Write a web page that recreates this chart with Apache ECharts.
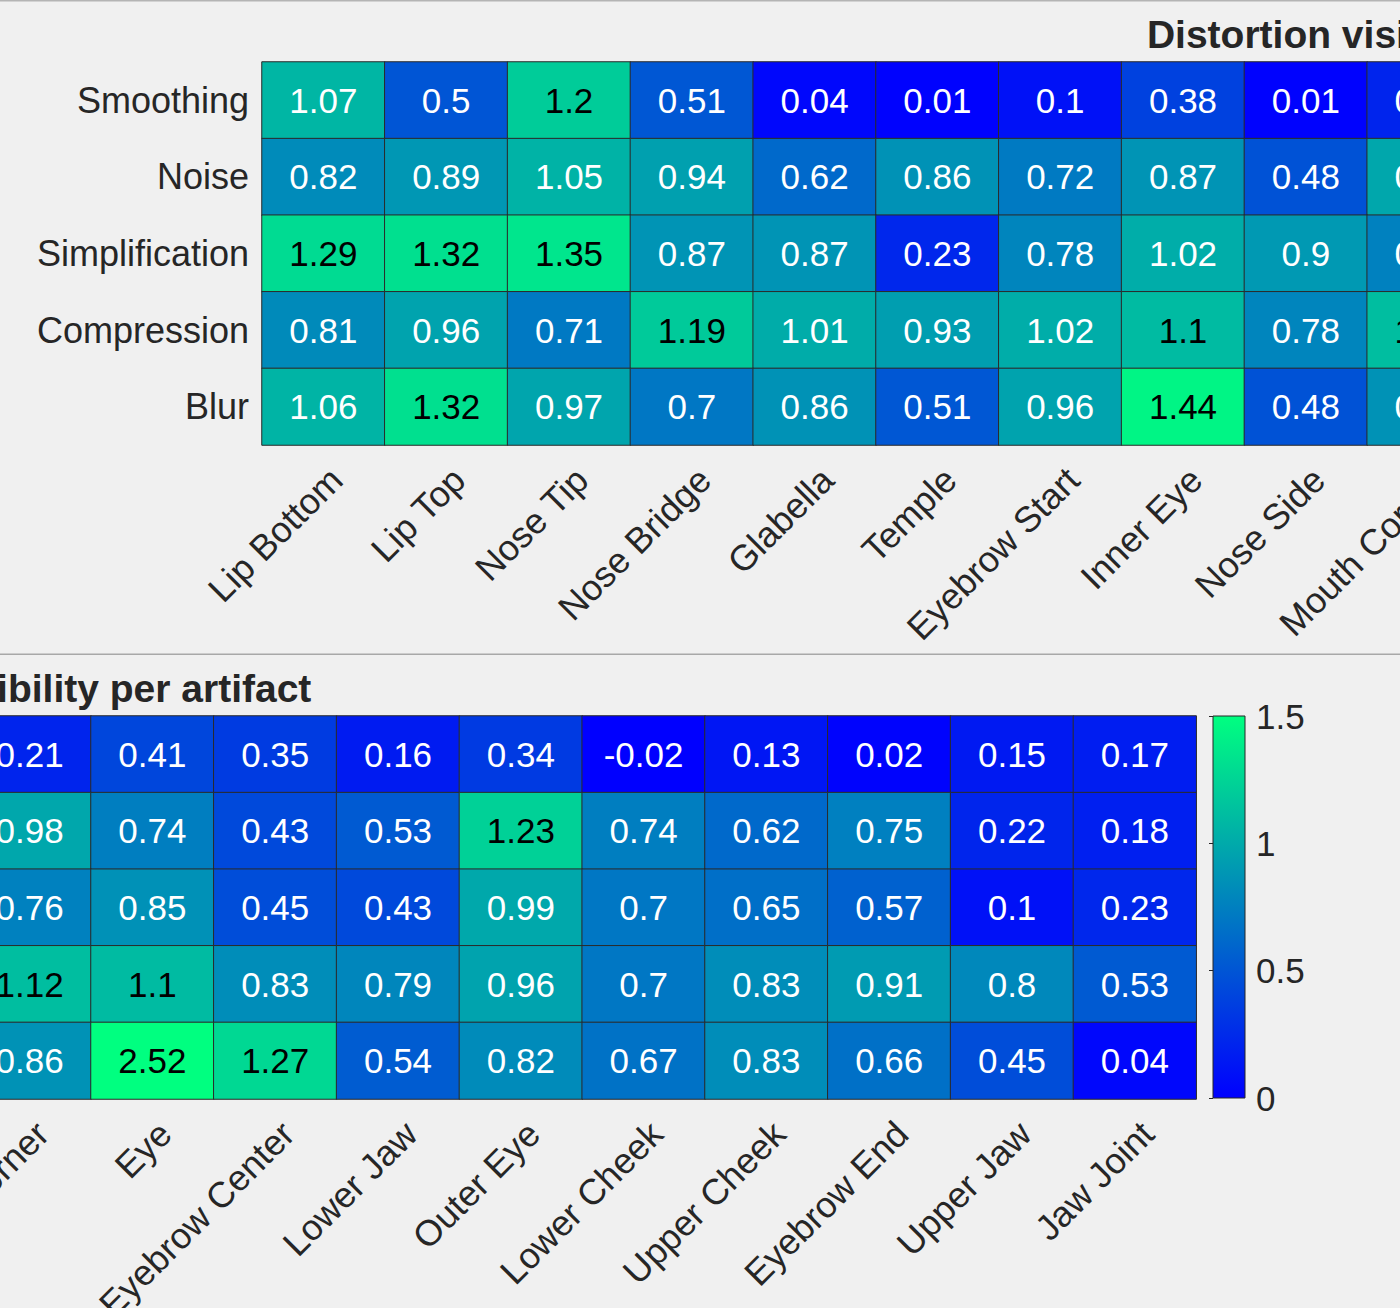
<!DOCTYPE html>
<html>
<head>
<meta charset="utf-8">
<script src="https://cdn.jsdelivr.net/npm/echarts@6/dist/echarts.min.js"></script>
<style>
html,body{margin:0;padding:0;background:#f0f0f0;}
#chart{width:1400px;height:1308px;}
</style>
</head>
<body>
<div id="chart"></div>
<script>
// ---- data ----
const TITLE = 'Distortion visibility per artifact';
const regions = ['Lip Bottom', 'Lip Top', 'Nose Tip', 'Nose Bridge', 'Glabella', 'Temple',
  'Eyebrow Start', 'Inner Eye', 'Nose Side', 'Mouth Corner', 'Eye', 'Eyebrow Center',
  'Lower Jaw', 'Outer Eye', 'Lower Cheek', 'Upper Cheek', 'Eyebrow End', 'Upper Jaw', 'Jaw Joint'];
const artifacts = ['Smoothing', 'Noise', 'Simplification', 'Compression', 'Blur'];
const smoothing      = [1.07, 0.5, 1.2, 0.51, 0.04, 0.01, 0.1, 0.38, 0.01, 0.21, 0.41, 0.35, 0.16, 0.34, -0.02, 0.13, 0.02, 0.15, 0.17];
const noise          = [0.82, 0.89, 1.05, 0.94, 0.62, 0.86, 0.72, 0.87, 0.48, 0.98, 0.74, 0.43, 0.53, 1.23, 0.74, 0.62, 0.75, 0.22, 0.18];
const simplification = [1.29, 1.32, 1.35, 0.87, 0.87, 0.23, 0.78, 1.02, 0.9, 0.76, 0.85, 0.45, 0.43, 0.99, 0.7, 0.65, 0.57, 0.1, 0.23];
const compression    = [0.81, 0.96, 0.71, 1.19, 1.01, 0.93, 1.02, 1.1, 0.78, 1.12, 1.1, 0.83, 0.79, 0.96, 0.7, 0.83, 0.91, 0.8, 0.53];
const blur           = [1.06, 1.32, 0.97, 0.7, 0.86, 0.51, 0.96, 1.44, 0.48, 0.86, 2.52, 1.27, 0.54, 0.82, 0.67, 0.83, 0.66, 0.45, 0.04];
const colorMin = 0;
const colorMax = 1.5;
const colorStep = 0.5;

// ---- build ----
const rows = [smoothing, noise, simplification, compression, blur];
const FONT = '"Liberation Sans", Arial, Helvetica, sans-serif';
const TXT = '#262626';
const data = [];
rows.forEach((r, yi) => r.forEach((v, xi) => {
  data.push({ value: [xi, yi, v], label: { color: v >= 1.08 ? '#000000' : '#ffffff' } });
}));

// The figure is one wide strip split in two halves stacked vertically
const PANEL_W = 1399, PANEL_H = 654;
const HM_LEFT = 262, HM_TOP = 62, CELL_W = 122.8, HM_H = 383;
const HM_W = CELL_W * regions.length;

function gridFor(i) {
  return { left: HM_LEFT - i * PANEL_W, top: HM_TOP + i * PANEL_H, width: HM_W, height: HM_H,
    containLabel: false, outerBoundsMode: 'none' };
}
function xAxisFor(i) {
  return {
    type: 'category', gridIndex: i, data: regions, position: 'bottom',
    axisLine: { show: false }, axisTick: { show: false }, splitLine: { show: false },
    axisLabel: { interval: 0, rotate: 45, fontSize: 36, fontFamily: FONT, color: TXT,
      margin: 16, verticalAlign: 'top', align: 'right', hideOverlap: false }
  };
}
function yAxisFor(i) {
  return {
    type: 'category', gridIndex: i, data: artifacts, inverse: true,
    axisLine: { show: false }, axisTick: { show: false }, splitLine: { show: false },
    axisLabel: { fontSize: 36, fontFamily: FONT, color: TXT, margin: 13 }
  };
}
function seriesFor(i) {
  return {
    type: 'heatmap', xAxisIndex: i, yAxisIndex: i, data: data,
    label: { show: true, fontSize: 35, fontFamily: FONT, formatter: p => String(p.value[2]) },
    itemStyle: { borderColor: '#2a2a2a', borderWidth: 1 },
    emphasis: { disabled: true }, animation: false
  };
}

const chart = echarts.init(document.getElementById('chart'), null, { renderer: 'svg' });
chart.setOption({
  backgroundColor: '#f0f0f0',
  animation: false,
  grid: [gridFor(0), gridFor(1), {
    left: 1213, top: HM_TOP + PANEL_H, width: 32, height: HM_H - 1, show: true,
    outerBoundsMode: 'none', containLabel: false,
    borderColor: TXT, borderWidth: 1,
    backgroundColor: { type: 'linear', x: 0, y: 0, x2: 0, y2: 1,
      colorStops: [{ offset: 0, color: '#00ff80' }, { offset: 1, color: '#0000ff' }] }
  }],
  xAxis: [xAxisFor(0), xAxisFor(1), { type: 'value', gridIndex: 2, min: 0, max: 1, show: false }],
  yAxis: [yAxisFor(0), yAxisFor(1), {
    type: 'value', gridIndex: 2, min: colorMin, max: colorMax, interval: colorStep, position: 'right',
    axisLine: { show: false }, splitLine: { show: false },
    axisTick: { show: true, inside: true, length: 4, lineStyle: { color: TXT, width: 1 } },
    axisLabel: { fontSize: 35, fontFamily: FONT, color: TXT, margin: 11, formatter: v => String(v) }
  }],
  visualMap: {
    type: 'continuous', show: false, min: colorMin, max: colorMax, dimension: 2,
    seriesIndex: [0, 1], inRange: { color: ['#0000ff', '#00ff80'] }
  },
  series: [seriesFor(0), seriesFor(1)],
  graphic: [
    { type: 'rect', shape: { x: 0, y: 0, width: 1400, height: 1.5 }, style: { fill: '#b4b4b4' }, silent: true },
    { type: 'rect', shape: { x: 0, y: 653.5, width: 1400, height: 1.5 }, style: { fill: '#a8a8a8' }, silent: true },
    { type: 'text', x: HM_LEFT + HM_W / 2, y: 34, silent: true,
      style: { text: TITLE, fontSize: 39, fontWeight: 'bold', fontFamily: FONT, fill: TXT,
        align: 'center', verticalAlign: 'middle', textAlign: 'center', textVerticalAlign: 'middle' } },
    { type: 'text', x: HM_LEFT + HM_W / 2 - PANEL_W, y: 34 + PANEL_H, silent: true,
      style: { text: TITLE, fontSize: 39, fontWeight: 'bold', fontFamily: FONT, fill: TXT,
        align: 'center', verticalAlign: 'middle', textAlign: 'center', textVerticalAlign: 'middle' } }
  ]
});
</script>
</body>
</html>
